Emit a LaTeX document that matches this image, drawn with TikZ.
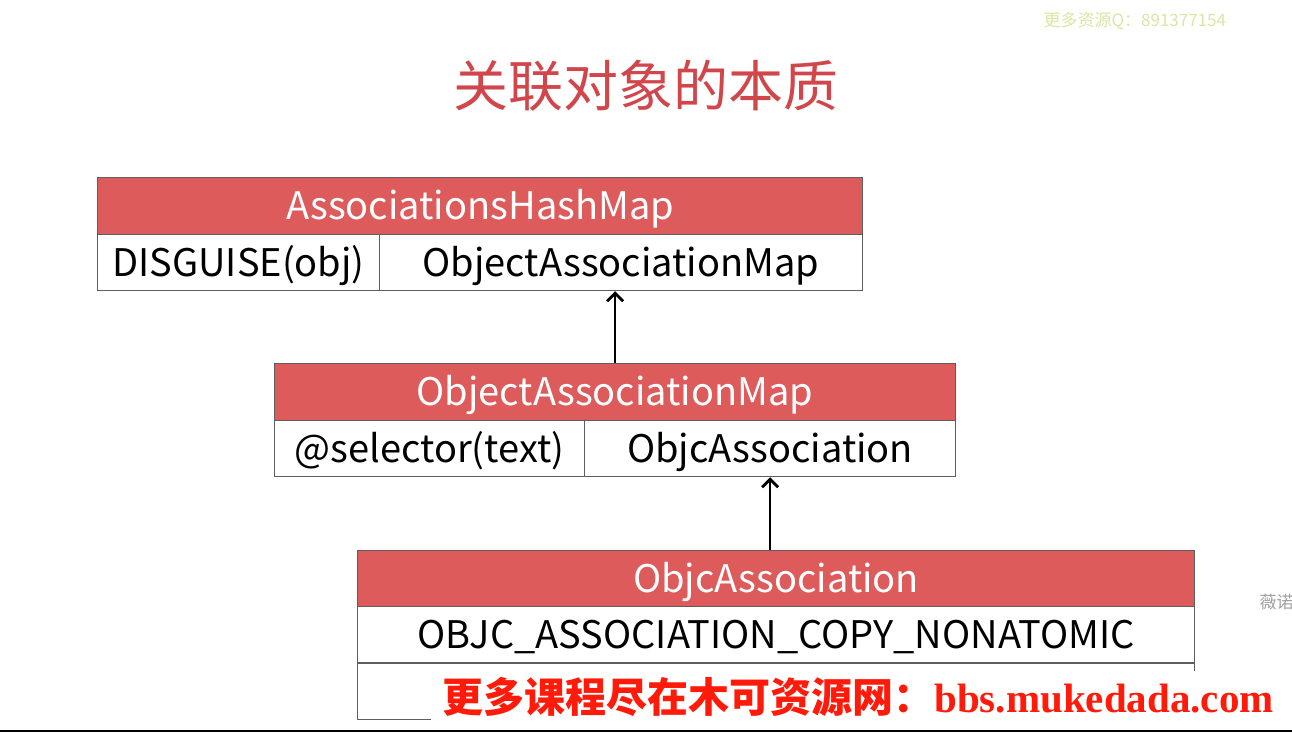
\documentclass[tikz,border=0pt]{standalone}
\usepackage{fontspec}
\setmainfont{Noto Sans CJK SC}
\newfontfamily\adserif{Liberation Serif}
\usepackage{xcolor}
\definecolor{TitleRed}{HTML}{D0464B}
\definecolor{HeadRed}{HTML}{DE5B5C}
\definecolor{BoxLine}{HTML}{5E5E5E}
\definecolor{AdRed}{HTML}{FF1A0A}
\definecolor{AdGreen}{HTML}{D9E7A3}
\definecolor{AdGray}{HTML}{A0A0A0}
\usetikzlibrary{arrows.meta}

\begin{document}
\begin{tikzpicture}[
  x=1pt, y=-1pt,
  % Grundstile
  headbox/.style={
    draw=BoxLine,
    line width=1.2pt,
    fill=HeadRed,
    text=white,
    anchor=north west,
    inner sep=0pt,
    minimum height=57pt,
    text height=31pt,
    text depth=4pt,
    font=\fontsize{38}{38}\selectfont
  },
  cellbox/.style={
    draw=BoxLine,
    line width=1.2pt,
    fill=white,
    anchor=north west,
    inner sep=0pt,
    minimum height=56pt,
    text height=31pt,
    text depth=4pt,
    font=\fontsize{38}{38}\selectfont
  },
  link/.style={
    draw=black,
    line width=1.3pt,
    -{Straight Barb[length=8pt,width=16pt,line width=2.8pt]}
  },
  adtext/.style={
    font=\fontsize{17}{17}\selectfont,
    anchor=west
  }
]

% =============================================================================
% HINTERGRUND
% =============================================================================
\useasboundingbox (0,0) rectangle (1292,732);
\fill[white] (0,0) rectangle (1292,732);

% Titel
\node[font=\fontsize{55}{55}\selectfont, text=TitleRed] (title) at (646,86) {关联对象的本质};
\node[adtext, text=AdGreen] (qq) at (1040,21) {更多资源Q：891377154};

% =============================================================================
% AssociationsHashMap
% =============================================================================
\node[headbox, minimum width=765pt] (ahm) at (97,177) {AssociationsHashMap};
\node[cellbox, minimum width=282pt] (ahmkey) at (97,234) {DISGUISE(obj)};
\node[cellbox, minimum width=483pt] (ahmval) at (379,234) {ObjectAssociationMap};

% =============================================================================
% ObjectAssociationMap
% =============================================================================
\node[headbox, minimum width=681pt] (oam) at (274,363) {ObjectAssociationMap};
\node[cellbox, minimum width=310pt] (oamkey) at (274,420) {@selector(text)};
\node[cellbox, minimum width=371pt] (oamval) at (584,420) {ObjcAssociation};

% =============================================================================
% ObjcAssociation
% =============================================================================
\node[headbox, minimum width=837pt] (oa) at (357,550) {ObjcAssociation};
\node[cellbox, minimum width=837pt] (oapolicy) at (357,606) {OBJC\_ASSOCIATION\_COPY\_NONATOMIC};
\node[cellbox, minimum width=837pt] (oavalue) at (357,663) {};

% Pfeile
\draw[link] (oam.north) -- (oam.north |- ahmval.south);
\draw[link] (oamval.south |- oa.north) -- (oamval.south);

% Hinweise
\node[adtext, text=AdGray] (side) at (1256,602) {薇诺};
\node[fill=white, inner sep=0pt, minimum width=855pt, minimum height=52pt,
      text=AdRed, font=\fontsize{41}{41}\selectfont\bfseries] (ad) at (858,697)
  {更多课程尽在木可资源网：{\adserif bbs.mukedada.com}};
\fill[black] (0,729.5) rectangle (1292,732);

\end{tikzpicture}
\end{document}
